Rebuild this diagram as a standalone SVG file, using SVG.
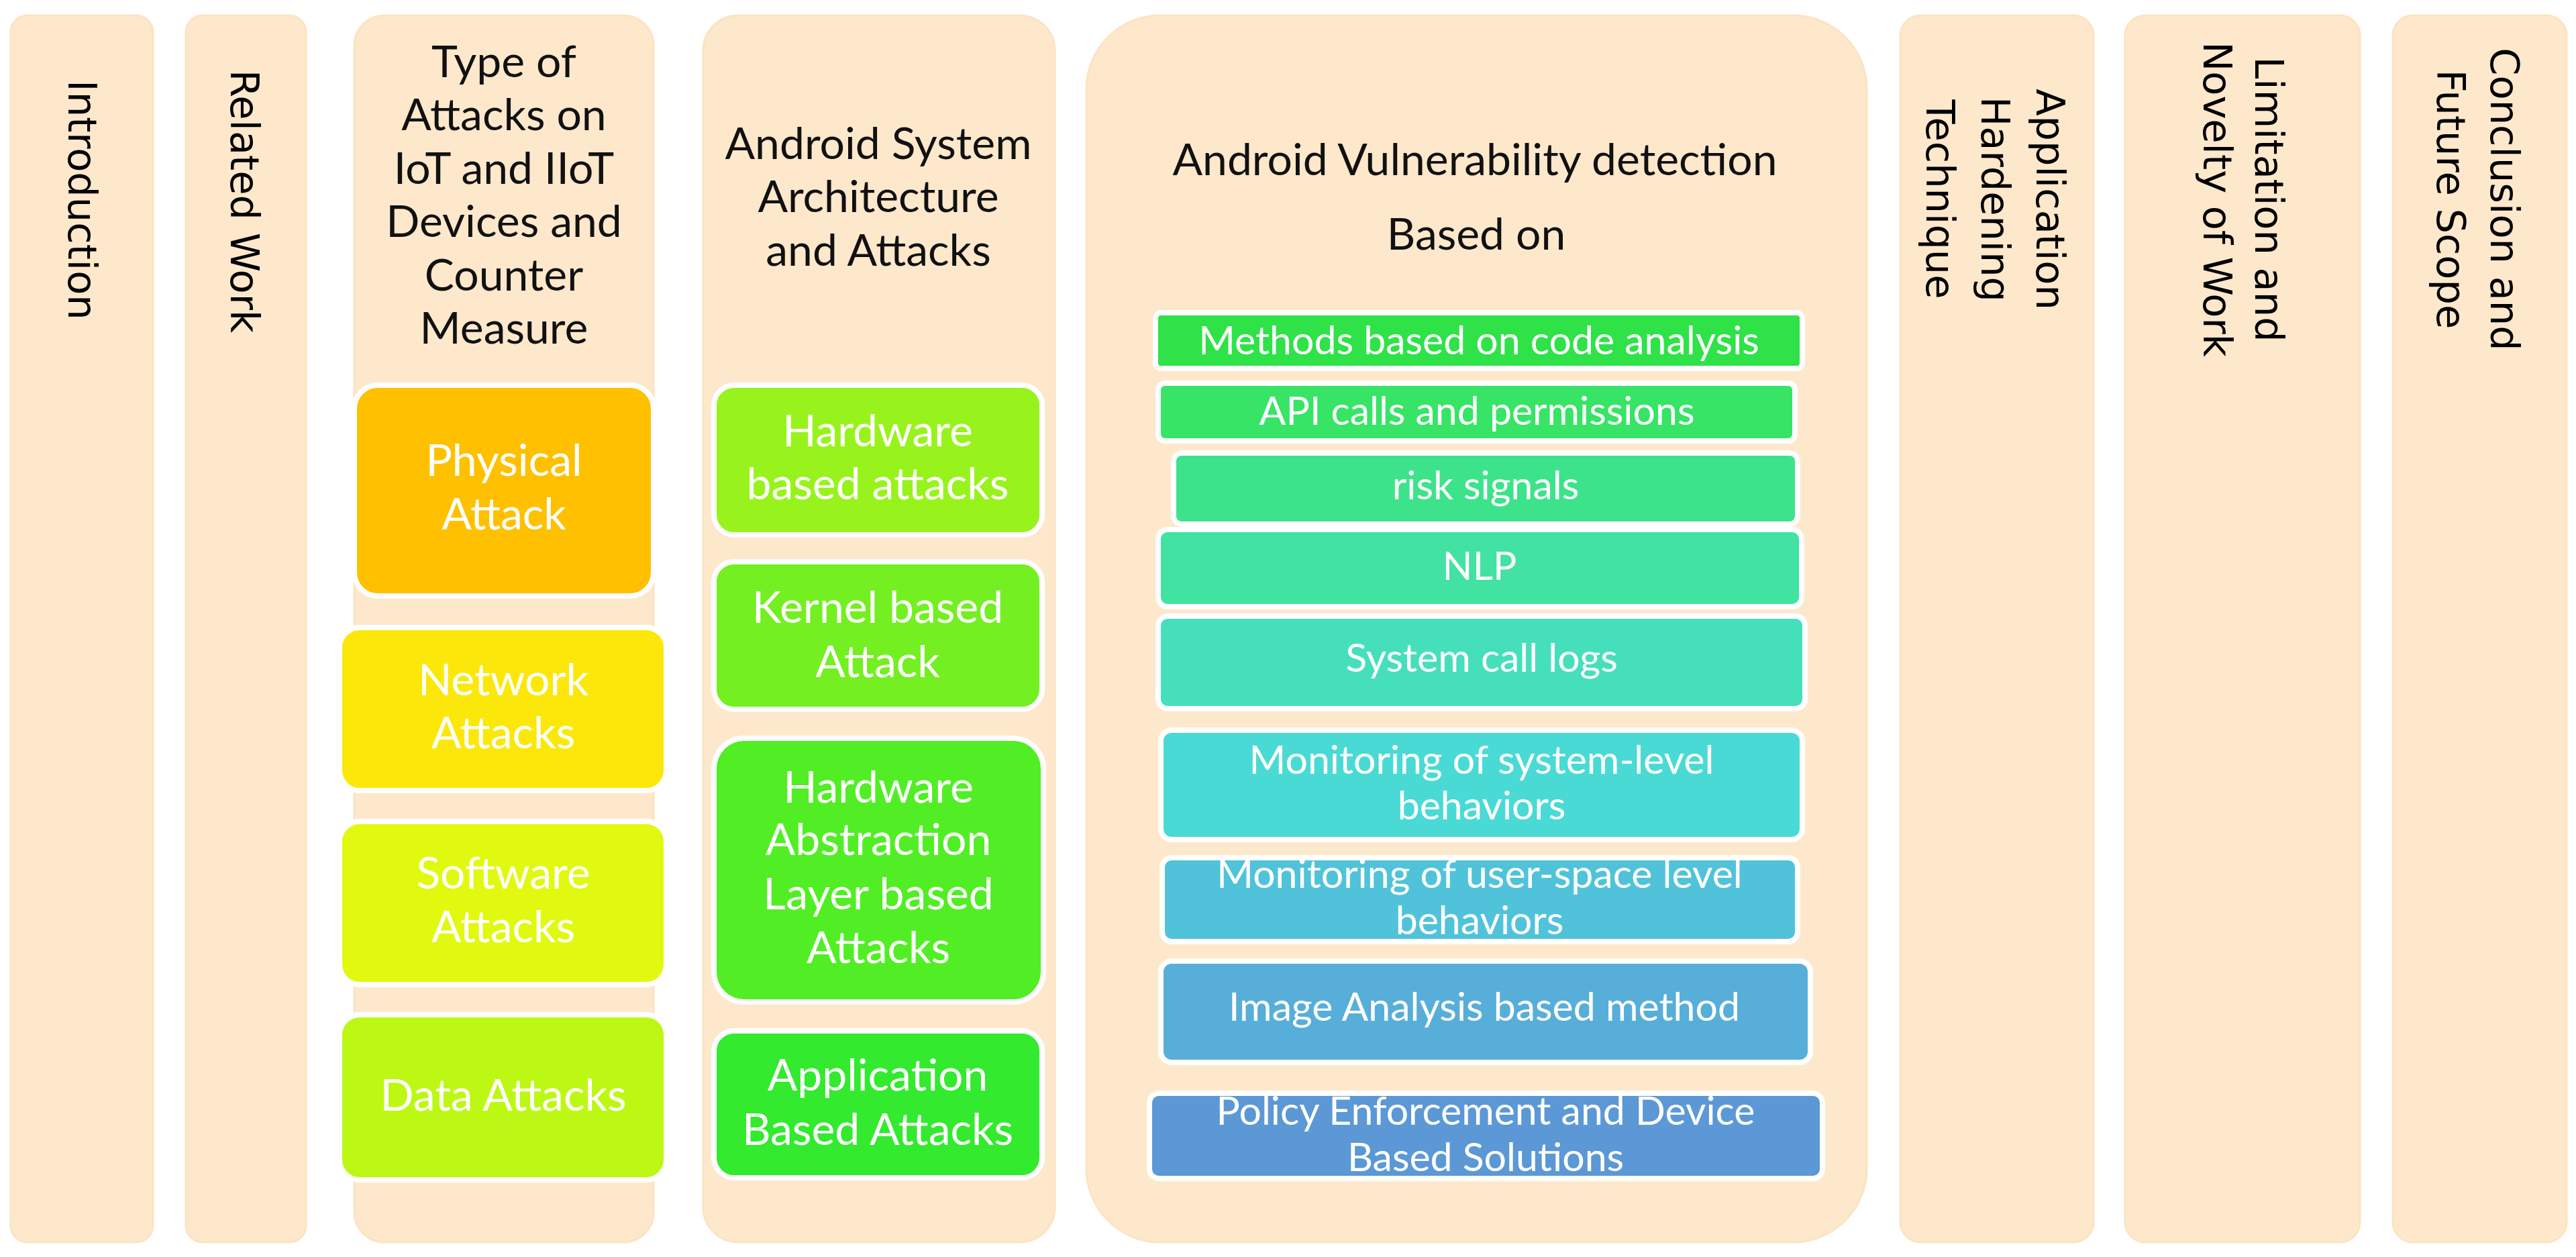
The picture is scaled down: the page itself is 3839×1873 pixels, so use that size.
<svg xmlns="http://www.w3.org/2000/svg" width="3839" height="1873" viewBox="0 0 3839 1873">
<style>
.col{fill:#FEE8CC;stroke:#FCE3C2;stroke-width:3}
.box{stroke:#FFFFFF;stroke-width:8}
.t{font-family:Lato,"Open Sans",sans-serif;font-size:66px;fill:#111111;text-anchor:middle}
.w{font-family:Lato,"Open Sans",sans-serif;font-size:66px;fill:#FFFFFF;text-anchor:middle}
.s{font-family:Lato,"Open Sans",sans-serif;font-size:59px;fill:#FFFFFF;text-anchor:middle}
.v{font-family:"DejaVu Sans",Verdana,sans-serif;font-size:59px;fill:#000000;text-anchor:middle}
</style>
<rect width="3839" height="1873" fill="#FFFFFF"/>

<g id="introduction">
<rect class="col" x="16" y="23" width="212" height="1828" rx="25"/>
<text class="v" transform="translate(102,298) rotate(90)">Introduction</text>
</g>

<g id="related-work">
<rect class="col" x="277" y="23" width="179" height="1828" rx="25"/>
<text class="v" transform="translate(344,300) rotate(90)">Related Work</text>
</g>

<g id="attacks-iot">
<rect class="col" x="528" y="23" width="446" height="1828" rx="45"/>
<text class="t" x="751"><tspan x="751" y="115">Type of</tspan><tspan x="751" y="194">Attacks on</tspan><tspan x="751" y="274">IoT and IIoT</tspan><tspan x="751" y="353">Devices and</tspan><tspan x="751" y="433">Counter</tspan><tspan x="751" y="512">Measure</tspan></text>
</g>
<g id="physical-attack">
<rect class="box" x="528" y="574" width="446" height="314" rx="35" fill="#FFC000"/>
<text class="w"><tspan x="751" y="709">Physical</tspan><tspan x="751" y="789">Attack</tspan></text>
</g>
<g id="network-attacks">
<rect class="box" x="506" y="935" width="487" height="243" rx="30" fill="#FBE80A"/>
<text class="w"><tspan x="750" y="1036">Network</tspan><tspan x="750" y="1115">Attacks</tspan></text>
</g>
<g id="software-attacks">
<rect class="box" x="506" y="1224" width="487" height="243" rx="30" fill="#E1F90F"/>
<text class="w"><tspan x="750" y="1324">Software</tspan><tspan x="750" y="1404">Attacks</tspan></text>
</g>
<g id="data-attacks">
<rect class="box" x="506" y="1512" width="487" height="246" rx="30" fill="#BDF815"/>
<text class="w" x="750" y="1655">Data Attacks</text>
</g>

<g id="android-architecture">
<rect class="col" x="1048" y="23" width="524" height="1828" rx="52"/>
<text class="t"><tspan x="1309" y="237">Android System</tspan><tspan x="1309" y="316">Architecture</tspan><tspan x="1309" y="396">and Attacks</tspan></text>
</g>
<g id="hardware-based">
<rect class="box" x="1064" y="574" width="489" height="223" rx="30" fill="#98F31D"/>
<text class="w"><tspan x="1308" y="665">Hardware</tspan><tspan x="1308" y="744">based attacks</tspan></text>
</g>
<g id="kernel-based">
<rect class="box" x="1064" y="837" width="489" height="220" rx="30" fill="#74EF21"/>
<text class="w"><tspan x="1308" y="928">Kernel based</tspan><tspan x="1308" y="1009">Attack</tspan></text>
</g>
<g id="hal-based">
<rect class="box" x="1064" y="1100" width="491" height="393" rx="45" fill="#52EE25"/>
<text class="w"><tspan x="1309" y="1196">Hardware</tspan><tspan x="1309" y="1274">Abstraction</tspan><tspan x="1309" y="1355">Layer based</tspan><tspan x="1309" y="1435">Attacks</tspan></text>
</g>
<g id="application-based">
<rect class="box" x="1064" y="1536" width="489" height="219" rx="30" fill="#33EA2E"/>
<text class="w"><tspan x="1308" y="1625">Application</tspan><tspan x="1308" y="1706">Based Attacks</tspan></text>
</g>

<g id="vulnerability-detection">
<rect class="col" x="1619" y="23" width="1163" height="1828" rx="110"/>
<text class="t"><tspan x="2198" y="261">Android Vulnerability detection</tspan><tspan x="2200" y="372">Based on</tspan></text>
</g>
<g id="code-analysis">
<rect class="box" x="1722" y="466" width="964" height="83" rx="8" fill="#2FE248"/>
<text class="s" x="2204" y="528">Methods based on code analysis</text>
</g>
<g id="api-calls">
<rect class="box" x="1726" y="571" width="949" height="86" rx="10" fill="#37E466"/>
<text class="s" x="2201" y="633">API calls and permissions</text>
</g>
<g id="risk-signals">
<rect class="box" x="1749" y="675" width="930" height="106" rx="12" fill="#3DE38A"/>
<text class="s" x="2214" y="744">risk signals</text>
</g>
<g id="nlp">
<rect class="box" x="1726" y="789" width="959" height="115" rx="14" fill="#42E2A2"/>
<text class="s" x="2205" y="864">NLP</text>
</g>
<g id="system-call-logs">
<rect class="box" x="1726" y="918" width="964" height="138" rx="14" fill="#46DFBC"/>
<text class="s" x="2208" y="1001">System call logs</text>
</g>
<g id="system-level">
<rect class="box" x="1730" y="1088" width="956" height="163" rx="16" fill="#4ADAD5"/>
<text class="s"><tspan x="2208" y="1153">Monitoring of system-level</tspan><tspan x="2208" y="1221">behaviors</tspan></text>
</g>
<g id="user-space-level">
<rect class="box" x="1732" y="1278" width="947" height="125" rx="14" fill="#50C3DA"/>
<text class="s"><tspan x="2205" y="1323">Monitoring of user-space level</tspan><tspan x="2205" y="1392">behaviors</tspan></text>
</g>
<g id="image-analysis">
<rect class="box" x="1730" y="1432" width="968" height="151" rx="16" fill="#57AED8"/>
<text class="s" x="2212" y="1521">Image Analysis based method</text>
</g>
<g id="policy-enforcement">
<rect class="box" x="1713" y="1629" width="1003" height="127" rx="14" fill="#5B98D5"/>
<text class="s"><tspan x="2214" y="1676">Policy Enforcement and Device</tspan><tspan x="2214" y="1745">Based Solutions</tspan></text>
</g>

<g id="application-hardening">
<rect class="col" x="2832" y="23" width="288" height="1828" rx="30"/>
<text class="v" transform="translate(3035,297) rotate(90)"><tspan x="0" y="0">Application</tspan><tspan x="0" y="82">Hardening</tspan><tspan x="0" y="164">Technique</tspan></text>
</g>

<g id="limitation-novelty">
<rect class="col" x="3167" y="23" width="350" height="1828" rx="30"/>
<text class="v" transform="translate(3361,297) rotate(90)"><tspan x="0" y="0">Limitation and</tspan><tspan x="0" y="77">Novelty of Work</tspan></text>
</g>

<g id="conclusion-future">
<rect class="col" x="3566" y="23" width="259" height="1828" rx="30"/>
<text class="v" transform="translate(3712,297) rotate(90)"><tspan x="0" y="0">Conclusion and</tspan><tspan x="0" y="80">Future Scope</tspan></text>
</g>

<g id="connectors"></g>
</svg>
